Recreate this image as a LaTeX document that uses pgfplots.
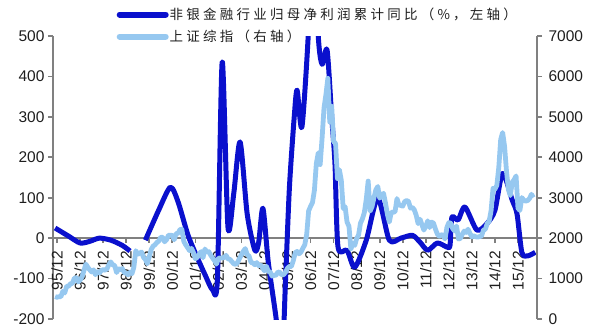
\documentclass[border=0pt]{standalone}
\usepackage{pgfplots}
\usepackage{pgfplotstable}
\pgfplotsset{compat=1.18}
\usepackage{fontspec}
\setmainfont{Liberation Sans}
\newfontfamily\cjk{Noto Sans CJK SC}[LetterSpace=24]
\definecolor{darkb}{RGB}{10,16,205}
\definecolor{lightb}{RGB}{150,200,240}
\definecolor{axgray}{RGB}{128,128,128}
\definecolor{txt}{RGB}{30,30,30}

% Non-bank financial profit growth (%), left axis; x = months since 95/12
\pgfplotstableread{
m v
-1 25
6 5
12 -12
17 -8
22 0
28 -5
34 -18
38 -32
40 nan
46 -5
53 70
59 126
63 90
68 10
72 -37
77 -90
81 -128
83.5 -100
86 436
89 27
92 110
95.3 238
99 60
103 -30
105 -10
107.2 74
110 -60
114 -196
117 -320
119 -100
121 126
123.5 300
125 366
127.5 275
131 520
133 800
136 500
138 430
140.6 465
143 300
144.7 185
146.3 -22
151 -30
155 -72
161 -5
167 99
173 -5
179 0
185 7
189 -10
193 -30
198 -12
203 -22
204.6 -18
205.6 52
208.8 45
212.4 77
218.6 20
224 37
228 69
232 160
237 94
239.5 60
242 -35
245 -44
249 -35
}\profit

% Shanghai Composite, monthly closes from 95/12 to 16/09, right axis
\pgfplotstableread[row sep=\\]{
v\\
555\\
537\\ 553\\ 550\\ 682\\ 643\\ 810\\ 813\\ 870\\ 883\\ 1008\\ 1022\\ 917\\
962\\ 1040\\ 1196\\ 1358\\ 1281\\ 1218\\ 1163\\ 1217\\ 1097\\ 1170\\ 1137\\ 1194\\
1222\\ 1206\\ 1243\\ 1343\\ 1412\\ 1339\\ 1324\\ 1150\\ 1242\\ 1218\\ 1248\\ 1147\\
1134\\ 1090\\ 1158\\ 1120\\ 1280\\ 1690\\ 1601\\ 1628\\ 1657\\ 1527\\ 1471\\ 1367\\
1535\\ 1715\\ 1801\\ 1836\\ 1894\\ 1928\\ 2023\\ 2021\\ 1910\\ 1961\\ 2071\\ 2073\\
2065\\ 1960\\ 2112\\ 2119\\ 2214\\ 2218\\ 1920\\ 1834\\ 1764\\ 1690\\ 1747\\ 1646\\
1491\\ 1524\\ 1603\\ 1667\\ 1515\\ 1732\\ 1651\\ 1669\\ 1581\\ 1507\\ 1445\\ 1358\\
1500\\ 1511\\ 1511\\ 1521\\ 1576\\ 1487\\ 1476\\ 1421\\ 1367\\ 1349\\ 1398\\ 1497\\
1590\\ 1675\\ 1742\\ 1595\\ 1555\\ 1399\\ 1386\\ 1342\\ 1396\\ 1320\\ 1340\\ 1266\\
1191\\ 1306\\ 1181\\ 1159\\ 1060\\ 1080\\ 1083\\ 1162\\ 1155\\ 1092\\ 1099\\ 1161\\
1258\\ 1299\\ 1298\\ 1440\\ 1641\\ 1672\\ 1612\\ 1658\\ 1752\\ 1837\\ 2099\\ 2675\\
2786\\ 2881\\ 3183\\ 3841\\ 4109\\ 3820\\ 4471\\ 5218\\ 5552\\ 5954\\ 4871\\ 5262\\
4383\\ 4348\\ 3473\\ 3693\\ 3433\\ 2736\\ 2776\\ 2397\\ 2293\\ 1729\\ 1871\\ 1821\\
1991\\ 2082\\ 2373\\ 2477\\ 2633\\ 2959\\ 3412\\ 2667\\ 2779\\ 2996\\ 3195\\ 3277\\
2989\\ 3051\\ 3110\\ 2871\\ 2592\\ 2398\\ 2638\\ 2639\\ 2656\\ 2979\\ 2820\\ 2808\\
2791\\ 2905\\ 2928\\ 2911\\ 2743\\ 2762\\ 2701\\ 2568\\ 2359\\ 2468\\ 2333\\ 2199\\
2293\\ 2428\\ 2263\\ 2397\\ 2373\\ 2226\\ 2103\\ 2047\\ 2086\\ 2069\\ 1980\\ 2269\\
2385\\ 2366\\ 2237\\ 2178\\ 2301\\ 1979\\ 1994\\ 2098\\ 2175\\ 2141\\ 2221\\ 2116\\
2033\\ 2056\\ 2033\\ 2026\\ 2039\\ 2048\\ 2202\\ 2217\\ 2364\\ 2420\\ 2683\\ 3235\\
3210\\ 3310\\ 3748\\ 4441\\ 4612\\ 4277\\ 3664\\ 3206\\ 3053\\ 3383\\ 3445\\ 3539\\
2738\\ 2688\\ 3004\\ 2938\\ 2917\\ 2930\\ 2979\\ 3085\\ 3005\\
}\sse

\pgfplotsset{
  common/.style={
    width=484pt, height=283pt, scale only axis,
    at={(0,0)}, anchor=south west,
    xmin=-2.1, xmax=249.9,
    axis line style={axgray, line width=1.8pt},
    every tick/.style={axgray, line width=1.6pt},
    major tick length=5pt,
    tick align=outside,
    ticklabel style={font=\fontsize{15.5}{15.5}\selectfont, text=txt},
    /pgf/number format/assume math mode=true,
    /pgf/number format/1000 sep={},
    scaled y ticks=false,
    clip=true,
  }
}

\begin{document}
\begin{tikzpicture}
\path[use as bounding box] (-53pt,-11pt) rectangle (547pt,319pt);
\begin{axis}[common,
  ymin=-200, ymax=500, ytick={-200,-100,0,100,200,300,400,500},
  axis y line*=left, axis x line*=middle,
  xtick={0,12,...,240},
  xticklabels={95/12,96/12,97/12,98/12,99/12,00/12,01/12,02/12,03/12,04/12,05/12,06/12,07/12,08/12,09/12,10/12,11/12,12/12,13/12,14/12,15/12},
  xticklabel style={rotate=90, anchor=east, inner sep=2pt},
  xticklabel shift=6pt,
  unbounded coords=jump,
  legend style={draw=none, fill=none, at={(axis description cs:0.125,1.11)}, anchor=north west,
    font=\cjk\fontsize{13.5}{13.5}\selectfont, text=txt, row sep=7pt,
    nodes={inner sep=1pt}},
  legend cell align=left,
]
\addplot[darkb, line width=5pt, line join=round, smooth, tension=0.45,
  legend image code/.code={\draw[darkb, line width=6pt, line cap=round] (0pt,0pt) -- (46pt,0pt);}]
  table[x=m, y=v] {\profit};
\addlegendentry{非银金融行业归母净利润累计同比（\%，左轴）}
\addlegendimage{lightb, line width=6pt, legend image code/.code={\draw[lightb, line width=6pt, line cap=round] (0pt,0pt) -- (46pt,0pt);}}
\addlegendentry{上证综指（右轴）}
\end{axis}
\begin{axis}[common,
  ymin=0, ymax=7000, ytick={0,1000,...,7000},
  axis y line*=right, axis x line=none,
  yticklabel style={xshift=3pt},
]
\addplot[lightb, line width=4.8pt, line join=round]
  table[x expr=\coordindex-1, y=v] {\sse};
\end{axis}
\end{tikzpicture}
\end{document}
